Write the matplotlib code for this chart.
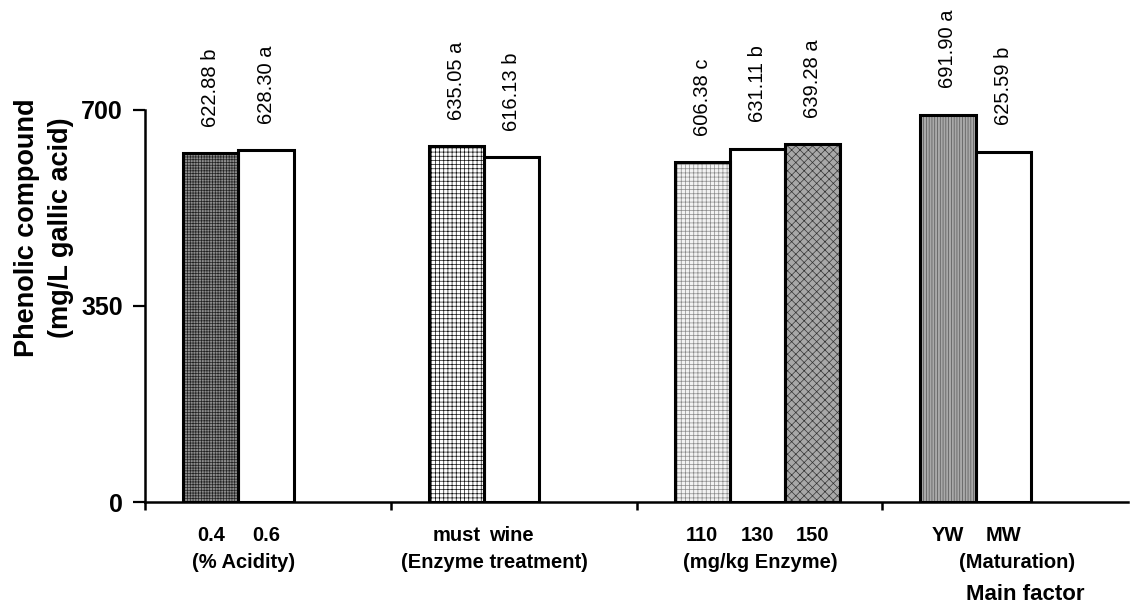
import matplotlib
matplotlib.use("Agg")
import matplotlib.pyplot as plt
import matplotlib.transforms as mtransforms

plt.rcParams['font.family'] = ['Liberation Sans', 'DejaVu Sans']
plt.rcParams['hatch.linewidth'] = 0.5

# ---- data ----
groups = ['(% Acidity)', '(Enzyme treatment)', '(mg/kg Enzyme)', '(Maturation)']
levels = [['0.4', '0.6'], ['must', 'wine'], ['110', '130', '150'], ['YW', 'MW']]
values = [[622.88, 628.30], [635.05, 616.13], [606.38, 631.11, 639.28], [691.90, 625.59]]
letters = [['b', 'a'], ['a', 'b'], ['c', 'b', 'a'], ['a', 'b']]
y_ticks = [0, 350, 700]
y_label = 'Phenolic compound\n(mg/L gallic acid)'
x_label = 'Main factor'

# ---- styles (face, hatch, hatch colour) ----
styles = [
    [('#8c8c8c', '++++++', '#222222'), ('white', '', 'black')],
    [('white', '++++', '#111111'), ('white', '', 'black')],
    [('#f2f2f2', '++++', '#8a8a8a'), ('white', '', 'black'), ('#a8a8a8', 'xxxx', '#333333')],
    [('#a9a9a9', '||||||', '#555555'), ('white', '', 'black')],
]
group_label_shift = [0.02, 0.04, 0.01, 0.17]

fig = plt.figure(figsize=(11.32, 6.10), dpi=100)
ax = fig.add_axes([145/1132, 1-502/610, 983/1132, 392/610])

bar_w = 0.225
offset = 0.155
centers, ticklabels = [], []
for g, (lv, vals, lets, sty) in enumerate(zip(levels, values, letters, styles)):
    xs = [g + offset + i*bar_w for i in range(len(vals))]
    for x, v, lab, let, (fc, ht, hc) in zip(xs, vals, lv, lets, sty):
        ax.bar(x, v, width=bar_w, align='edge', facecolor=fc, hatch=ht,
               edgecolor=hc, linewidth=0, zorder=2)
        ax.bar(x, v, width=bar_w, align='edge', fill=False,
               edgecolor='black', linewidth=2.2, zorder=3)
        ax.annotate(f'{v:.2f} {let}', xy=(x + bar_w/2, v), xytext=(0, 19),
                    textcoords='offset points', rotation=90, ha='center',
                    va='bottom', fontsize=14.5, annotation_clip=False)
        centers.append(x + bar_w/2)
        ticklabels.append(lab)
    gc = (xs[0] + xs[-1] + bar_w) / 2 + group_label_shift[g]
    trans = mtransforms.blended_transform_factory(ax.transData, fig.transFigure)
    ax.text(gc, 1-563/610, groups[g], transform=trans, ha='center', va='center',
            fontsize=14.5, fontweight='bold')

ax.set_xlim(0, 4)
ax.set_ylim(0, 700)
ax.set_yticks(y_ticks)
ax.set_yticklabels([str(t) for t in y_ticks], fontsize=18, fontweight='bold')
ax.tick_params(axis='y', length=9, width=1.6, pad=7, direction='out')

ax.set_xticks([0, 1, 2, 3])
ax.set_xticklabels([])
ax.tick_params(axis='x', which='major', length=6, width=1.8, direction='out')
ax.set_xticks(centers, minor=True)
ax.set_xticklabels(ticklabels, minor=True, fontsize=14.5, fontweight='bold')
ax.tick_params(axis='x', which='minor', length=0, pad=17)

for s in ['top', 'right']:
    ax.spines[s].set_visible(False)
for s in ['left', 'bottom']:
    ax.spines[s].set_linewidth(1.8)

fig.text(44/1132, 1-228/610, y_label, rotation=90, ha='center', va='center',
         fontsize=19.5, fontweight='bold', linespacing=1.35, multialignment='center')

trans = mtransforms.blended_transform_factory(ax.transData, fig.transFigure)
ax.text(3.58, 1-595/610, x_label, transform=trans, ha='center', va='center',
        fontsize=16, fontweight='bold')

fig.savefig('out.png', dpi=100)
